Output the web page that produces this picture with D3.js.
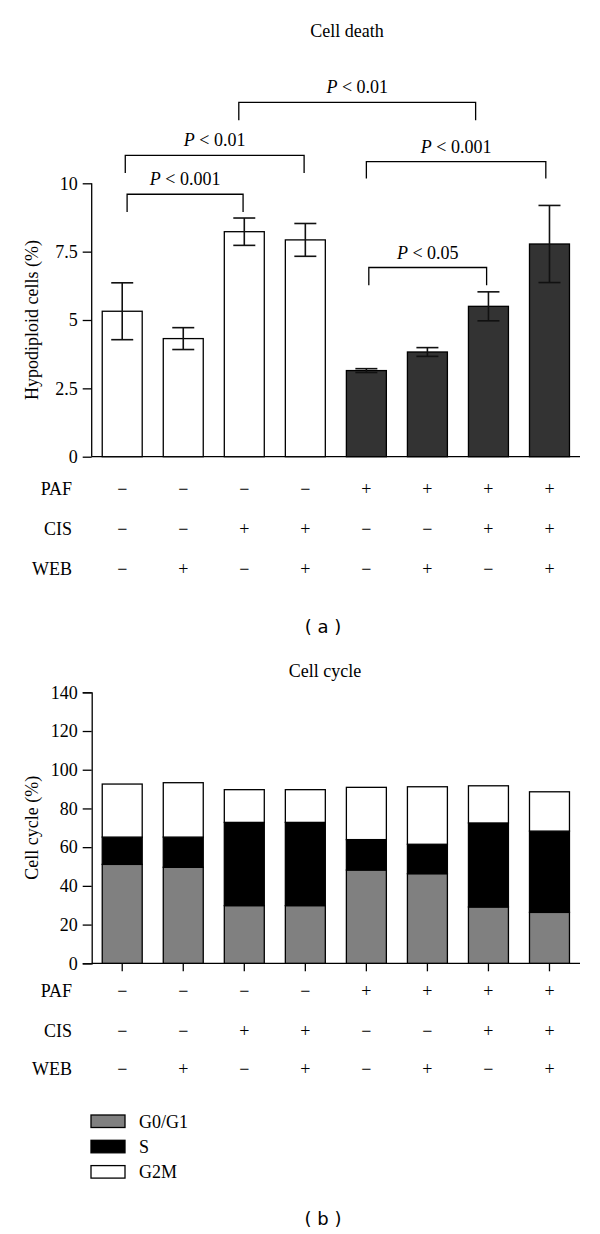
<!DOCTYPE html>
<html><head><meta charset="utf-8">
<script src="https://cdn.jsdelivr.net/npm/d3@7"></script>
<style>
body{margin:0;background:#fff;}
svg{display:block;}
text{font-family:"Liberation Serif","DejaVu Serif",serif;fill:#000;}
</style></head>
<body><svg id="c" width="600" height="1234"></svg>
<script>
// ---------- data ----------
const groups = ["1","2","3","4","5","6","7","8"];
const rowNames = ["PAF","CIS","WEB"];
const pafRow = ["−","−","−","−","+","+","+","+"];
const cisRow = ["−","−","+","+","−","−","+","+"];
const webRow = ["−","+","−","+","−","+","−","+"];

const deathMean = [5.32,4.32,8.23,7.93,3.15,3.83,5.50,7.78];
const deathErr  = [1.04,0.40,0.50,0.60,0.07,0.16,0.53,1.41];
const deathTicks = [0,2.5,5,7.5,10];
const deathTickLabels = ["0","2.5","5","7.5","10"];

// brackets: from/to in category index units, top & leg-bottom in % units
const brFrom  = [0.08,0.05,1.91,4.00,4.04];
const brTo    = [1.98,2.98,5.79,6.94,5.97];
const brTop   = [9.60,11.02,12.96,10.79,6.92];
const brLeg   = [8.95,10.38,12.31,10.18,6.27];
const brLabel = ["< 0.001","< 0.01","< 0.01","< 0.001","< 0.05"];

const phases = ["G0/G1","S","G2M"];
const g0g1 = [51.1,49.6,29.8,29.8,48.2,46.3,29.1,26.3];
const sPh  = [14.1,15.6,43.0,43.0,15.7,15.2,43.4,42.0];
const g2m  = [27.4,28.1,16.9,16.9,27.0,29.7,19.2,20.3];
const cycleTicks = [0,20,40,60,80,100,120,140];

// ---------- layout ----------
const svg = d3.select("#c");
const X0 = 91.7, X1 = 580;
const x = d3.scaleBand().domain(groups).range([X0, X1]).paddingInner(0.345).paddingOuter(0.1725);
const cx = i => x(groups[i]) + x.bandwidth()/2;
const xi = d3.scaleLinear().domain([0,7]).range([cx(0), cx(7)]);
const FS = 18;

function table(yRows){
  const rows = [pafRow, cisRow, webRow];
  rows.forEach((r,ri)=>{
    svg.append("text").attr("x",72).attr("y",yRows[ri]).attr("text-anchor","end")
      .attr("dominant-baseline","central").style("font-size",FS+"px").text(rowNames[ri]);
    r.forEach((s,i)=>{
      svg.append("text").attr("x",cx(i)).attr("y",yRows[ri]).attr("text-anchor","middle")
        .attr("dominant-baseline","central").style("font-size",FS+"px").style("fill","#000").text(s);
    });
  });
}

// ---------- chart (a) ----------
const yA = d3.scaleLinear().domain([0,10]).range([456.7,183.3]);
svg.append("text").attr("x",347).attr("y",31).attr("text-anchor","middle")
  .attr("dominant-baseline","central").style("font-size",FS+"px").text("Cell death");

const axA = svg.append("g").attr("transform",`translate(${X0},0)`)
  .call(d3.axisLeft(yA).tickValues(deathTicks).tickFormat((d,i)=>deathTickLabels[i]).tickSize(9).tickPadding(5));
axA.select(".domain").attr("d",`M0,${yA(10)}V${yA(0)}`);
axA.selectAll("line,path").attr("stroke","#000").attr("stroke-width",1.3);
axA.selectAll("text").style("font-size",FS+"px").style("font-family","Liberation Serif").attr("fill","#000");
svg.append("line").attr("x1",X0).attr("x2",X1).attr("y1",yA(0)).attr("y2",yA(0))
  .attr("stroke","#000").attr("stroke-width",1.3);

svg.append("text").attr("transform",`translate(31.7,${(yA(0)+yA(10))/2}) rotate(-90)`)
  .attr("text-anchor","middle").attr("dominant-baseline","central").style("font-size",FS+"px")
  .text("Hypodiploid cells (%)");

svg.append("g").selectAll("rect").data(deathMean).join("rect")
  .attr("x",(d,i)=>x(groups[i])).attr("width",x.bandwidth())
  .attr("y",d=>yA(d)).attr("height",d=>yA(0)-yA(d))
  .attr("fill",(d,i)=>pafRow[i]==="+"?"#333333":"#ffffff")
  .attr("stroke","#000").attr("stroke-width",1.3);

const capW = 11;
deathMean.forEach((m,i)=>{
  const g = svg.append("g").attr("stroke","#111").attr("stroke-width",1.6);
  const c = cx(i);
  g.append("line").attr("x1",c).attr("x2",c).attr("y1",yA(m+deathErr[i])).attr("y2",yA(m-deathErr[i]));
  g.append("line").attr("x1",c-capW).attr("x2",c+capW).attr("y1",yA(m+deathErr[i])).attr("y2",yA(m+deathErr[i]));
  g.append("line").attr("x1",c-capW).attr("x2",c+capW).attr("y1",yA(m-deathErr[i])).attr("y2",yA(m-deathErr[i]));
});

brFrom.forEach((f,k)=>{
  const xa = xi(f), xb = xi(brTo[k]), yt = yA(brTop[k]), yl = yA(brLeg[k]);
  svg.append("path").attr("d",`M${xa},${yl}V${yt}H${xb}V${yl}`)
    .attr("fill","none").attr("stroke","#000").attr("stroke-width",1.3);
  const t = svg.append("text").attr("x",(xa+xb)/2).attr("y",yt-15).attr("text-anchor","middle")
    .attr("dominant-baseline","central").style("font-size",FS+"px");
  t.append("tspan").style("font-style","italic").text("P");
  t.append("tspan").text(" "+brLabel[k]);
});

table([489.3,529.3,569]);
svg.append("text").attr("x",323).attr("y",626).attr("text-anchor","middle")
  .attr("dominant-baseline","central").style("font-family","DejaVu Sans").style("font-size","18px").text("( a )");

// ---------- chart (b) ----------
const yB = d3.scaleLinear().domain([0,140]).range([963.3,692.3]);
svg.append("text").attr("x",325).attr("y",671).attr("text-anchor","middle")
  .attr("dominant-baseline","central").style("font-size",FS+"px").text("Cell cycle");

const axB = svg.append("g").attr("transform",`translate(${X0},0)`)
  .call(d3.axisLeft(yB).tickValues(cycleTicks).tickSize(9).tickPadding(5));
axB.selectAll("line,path").attr("stroke","#000").attr("stroke-width",1.3);
axB.selectAll("text").style("font-size",FS+"px").style("font-family","Liberation Serif").attr("fill","#000");

const axBx = svg.append("g").attr("transform",`translate(0,${yB(0)})`)
  .call(d3.axisBottom(x).tickSize(8).tickFormat(""));
axBx.select(".domain").attr("d",`M${X0},0H${X1}`);
axBx.selectAll("line,path").attr("stroke","#000").attr("stroke-width",1.3);

svg.append("text").attr("transform",`translate(31.7,${(yB(0)+yB(140))/2}) rotate(-90)`)
  .attr("text-anchor","middle").attr("dominant-baseline","central").style("font-size",FS+"px")
  .text("Cell cycle (%)");

const cycleRows = groups.map((g,i)=>({g, "G0/G1":g0g1[i], "S":sPh[i], "G2M":g2m[i]}));
const stack = d3.stack().keys(phases)(cycleRows);
const phaseFill = d3.scaleOrdinal().domain(phases).range(["#808080","#000000","#ffffff"]);
svg.append("g").selectAll("g").data(stack).join("g")
  .attr("fill",d=>phaseFill(d.key))
  .selectAll("rect").data(d=>d).join("rect")
  .attr("x",d=>x(d.data.g)).attr("width",x.bandwidth())
  .attr("y",d=>yB(d[1])).attr("height",d=>yB(d[0])-yB(d[1]))
  .attr("stroke","#000").attr("stroke-width",1.3);

table([990.7,1030.7,1069.3]);

// legend
phases.forEach((p,k)=>{
  const y = 1115 + k*25.3;
  svg.append("rect").attr("x",91).attr("y",y).attr("width",34).attr("height",12.5)
    .attr("fill",phaseFill(p)).attr("stroke","#000").attr("stroke-width",1.3);
  svg.append("text").attr("x",139).attr("y",y+6.5).attr("dominant-baseline","central")
    .style("font-size",FS+"px").text(p);
});

svg.append("text").attr("x",323).attr("y",1218).attr("text-anchor","middle")
  .attr("dominant-baseline","central").style("font-family","DejaVu Sans").style("font-size","18px").text("( b )");
</script></body></html>
